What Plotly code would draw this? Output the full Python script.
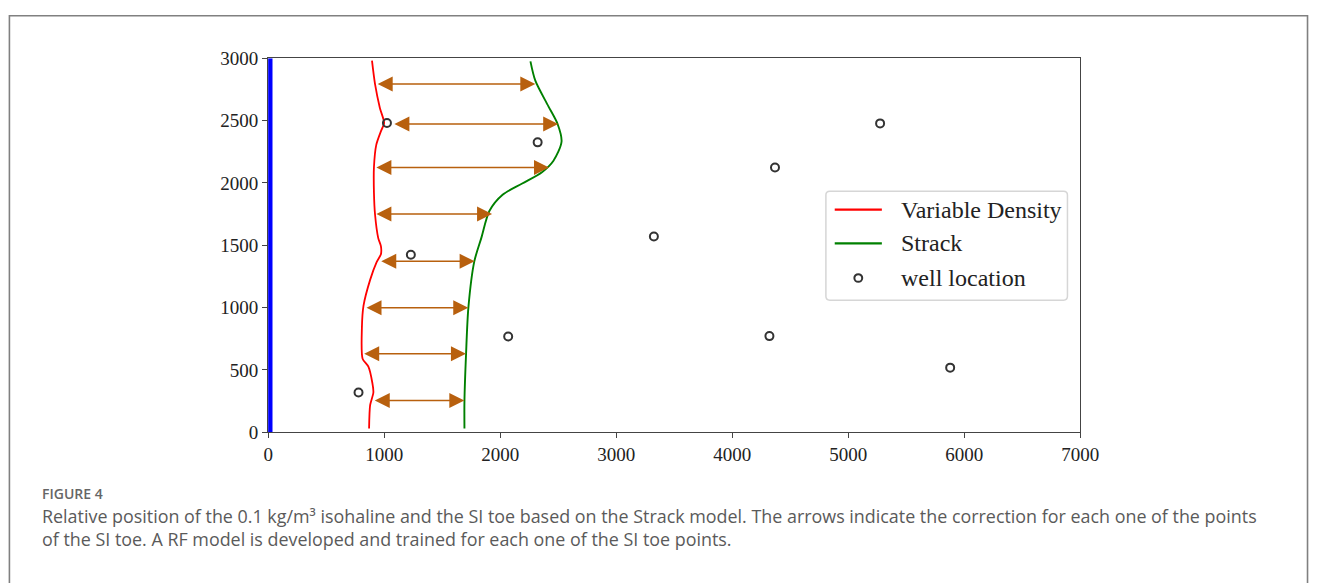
import plotly.graph_objects as go

W, H = 1328, 583

# Isohaline toe from the variable-density model (x, y in m)
vd_y = [30, 217, 319, 397, 526, 590, 835, 1015, 1222, 1364, 1428, 1493, 1557,
        1750, 1918, 2127, 2305, 2421, 2480, 2601, 2794, 2980]
vd_x = [870, 879, 907, 898, 864, 814, 808, 822, 879, 935, 972, 972, 949,
        921, 912, 912, 932, 975, 1000, 963, 921, 895]

# SI toe from the Strack analytical model
st_y = [30, 250, 630, 1000, 1370, 1557, 1776, 1905, 1995, 2086, 2176, 2330,
        2472, 2614, 2820, 2975]
st_x = [1692, 1692, 1706, 1726, 1777, 1837, 1908, 2021, 2190, 2360, 2458,
        2529, 2495, 2416, 2303, 2261]

# Correction arrows: start x, end x, y
arrow_y = [2794, 2472, 2124, 1750, 1371, 998, 629, 255]
arrow_x0 = [931, 1075, 920, 920, 962, 835, 815, 906]
arrow_x1 = [2303, 2500, 2421, 1930, 1780, 1725, 1705, 1691]

# Well locations
well_x = [1024, 2323, 1230, 2069, 779, 5275, 4369, 3325, 4321, 5879]
well_y = [2480, 2325, 1423, 768, 319, 2477, 2124, 1570, 771, 518]

# Coastline
coast_x = [18, 18]
coast_y = [0, 3000]

x_ticks = [0, 1000, 2000, 3000, 4000, 5000, 6000, 7000]
y_ticks = [0, 500, 1000, 1500, 2000, 2500, 3000]

legend_labels = ["Variable Density", "Strack", "well location"]

SERIF = "Liberation Serif, Times New Roman, serif"
SANS = "Open Sans, Noto Sans, sans-serif"
ARROW_COLOR = "#b8600e"
RED, GREEN, WELL = "#ff0000", "#008000", "#333333"


def px(x):
    """Pixel column -> paper x."""
    return x / W


def py(y):
    """Pixel row (from top) -> paper y."""
    return 1 - y / H


fig = go.Figure()

fig.add_trace(go.Scatter(x=coast_x, y=coast_y, mode="lines",
                         line=dict(color="#0000ff", width=4.5),
                         showlegend=False, hoverinfo="skip"))
fig.add_trace(go.Scatter(x=vd_x, y=vd_y, mode="lines", name=legend_labels[0],
                         line=dict(color=RED, width=1.8, shape="spline", smoothing=0.7),
                         showlegend=False))
fig.add_trace(go.Scatter(x=st_x, y=st_y, mode="lines", name=legend_labels[1],
                         line=dict(color=GREEN, width=1.9, shape="spline", smoothing=0.8),
                         showlegend=False))
fig.add_trace(go.Scatter(x=well_x, y=well_y, mode="markers", name=legend_labels[2],
                         marker=dict(symbol="circle-open", size=8, color=WELL,
                                     line=dict(width=2, color=WELL)),
                         showlegend=False))

for y, x0, x1 in zip(arrow_y, arrow_x0, arrow_x1):
    fig.add_annotation(x=x1, y=y, ax=x0, ay=y, xref="x", yref="y",
                       axref="x", ayref="y", text="", showarrow=True,
                       arrowhead=2, startarrowhead=2, arrowside="end+start",
                       arrowsize=2.0, startarrowsize=2.0, arrowwidth=1.5,
                       arrowcolor=ARROW_COLOR, standoff=0, startstandoff=0)

# Legend box (rounded corners) with line / marker samples
lx0, lx1, ly0, ly1, r = 836, 1082, 188, 301, 4
legend_path = (
    f"M {px(lx0 + r)},{py(ly0)} L {px(lx1 - r)},{py(ly0)} "
    f"Q {px(lx1)},{py(ly0)} {px(lx1)},{py(ly0 + r)} "
    f"L {px(lx1)},{py(ly1 - r)} Q {px(lx1)},{py(ly1)} {px(lx1 - r)},{py(ly1)} "
    f"L {px(lx0 + r)},{py(ly1)} Q {px(lx0)},{py(ly1)} {px(lx0)},{py(ly1 - r)} "
    f"L {px(lx0)},{py(ly0 + r)} Q {px(lx0)},{py(ly0)} {px(lx0 + r)},{py(ly0)} Z"
)
fig.add_shape(type="path", xref="paper", yref="paper", path=legend_path,
              line=dict(color="#d6d6d6", width=1.5), fillcolor="white", layer="above")

row_y = [207, 242, 278]
for yy, col in zip(row_y[:2], [RED, GREEN]):
    fig.add_shape(type="line", xref="paper", yref="paper",
                  x0=px(845), x1=px(893), y0=py(yy), y1=py(yy),
                  line=dict(color=col, width=2.2), layer="above")
fig.add_shape(type="circle", xref="paper", yref="paper",
              x0=px(865), x1=px(873), y0=py(282), y1=py(274),
              line=dict(color=WELL, width=2), fillcolor="rgba(0,0,0,0)", layer="above")
for yy, label in zip(row_y, legend_labels):
    fig.add_annotation(xref="paper", yref="paper", x=px(910), y=py(yy),
                       xanchor="left", yanchor="middle", showarrow=False, text=label,
                       font=dict(family=SERIF, size=24, color="#222222"))

# Caption
fig.add_annotation(xref="paper", yref="paper", x=px(37), y=py(502),
                   xanchor="left", yanchor="middle", showarrow=False, borderpad=0,
                   text="FIGURE 4",
                   font=dict(family=SANS, size=14, color="#666666", weight=600))
fig.add_annotation(xref="paper", yref="paper", x=px(37), y=py(537),
                   xanchor="left", yanchor="middle", align="left", showarrow=False,
                   borderpad=0,
                   text="Relative position of the 0.1 kg/m³ isohaline and the SI toe "
                        "based on the Strack model. The arrows indicate the correction for "
                        "each one of the points<br>"
                        "of the SI toe. A RF model is developed and trained for each one "
                        "of the SI toe points.",
                   font=dict(family=SANS, size=17.9, color="#5a5a5a"))

# Outer frame around the figure
fig.add_shape(type="rect", xref="paper", yref="paper",
              x0=px(4.5), x1=px(1326.5), y0=-0.05, y1=py(6),
              line=dict(color="#808080", width=1.6), fillcolor="rgba(0,0,0,0)")

axis_common = dict(showline=True, mirror=True, linecolor="#444444", linewidth=1.3,
                   ticks="outside", ticklen=5, tickwidth=1.3, tickcolor="#444444",
                   showgrid=False, zeroline=False,
                   tickfont=dict(family=SERIF, size=19, color="#222222"))

fig.update_layout(
    width=W, height=H,
    margin=dict(l=0, r=0, t=0, b=0),
    paper_bgcolor="white", plot_bgcolor="white",
    xaxis=dict(domain=[px(268), px(1095)], range=[0, 7000],
               tickvals=x_ticks, ticktext=[str(v) for v in x_ticks], **axis_common),
    yaxis=dict(domain=[py(438), py(50)], range=[0, 3000],
               tickvals=y_ticks, ticktext=[str(v) for v in y_ticks], **axis_common),
    showlegend=False,
)

fig.write_html("out.html")
